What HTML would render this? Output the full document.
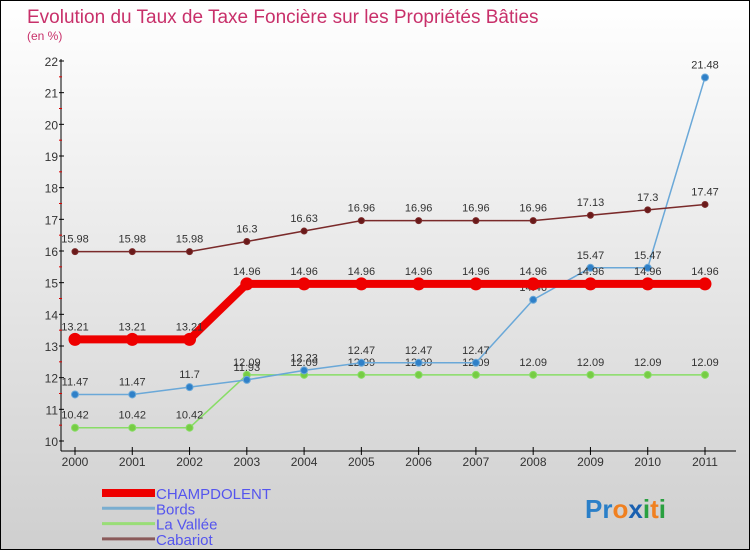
<!DOCTYPE html>
<html><head><meta charset="utf-8"><style>
html,body{margin:0;padding:0}
body{width:750px;height:550px;overflow:hidden;font-family:"Liberation Sans",sans-serif}
#wrap{position:relative;width:748px;height:548px;border:1px solid #000;background:linear-gradient(#ffffff,#cfcfcf)}
</style></head><body>
<div id="wrap">
<svg id="chart" width="748" height="548"></svg>
</div>
<script>
const years=[2000,2001,2002,2003,2004,2005,2006,2007,2008,2009,2010,2011];
const champdolent=[13.21,13.21,13.21,14.96,14.96,14.96,14.96,14.96,14.96,14.96,14.96,14.96];
const bords=[11.47,11.47,11.7,11.93,12.23,12.47,12.47,12.47,14.46,15.47,15.47,21.48];
const lavallee=[10.42,10.42,10.42,12.09,12.09,12.09,12.09,12.09,12.09,12.09,12.09,12.09];
const cabariot=[15.98,15.98,15.98,16.3,16.63,16.96,16.96,16.96,16.96,17.13,17.3,17.47];
const yTicks=[10,11,12,13,14,15,16,17,18,19,20,21,22];
const NS="http://www.w3.org/2000/svg";
const svg=document.getElementById('chart');
const xS=i=>74+i*(630/11);
const yS=v=>440-(v-10)*(380/12);
function mk(t,a,p){const e=document.createElementNS(NS,t);for(const k in a)e.setAttribute(k,a[k]);(p||svg).appendChild(e);return e;}
function txt(s,x,y,a){const e=mk('text',Object.assign({x:x,y:y},a));e.textContent=s;return e;}
// title
let t=txt('Evolution du Taux de Taxe Foncière sur les Propriétés Bâties',26,22,{'font-size':19,fill:'#c8306a'});


t=txt('(en %)',26,39,{'font-size':12,fill:'#c8306a'});


// axes
let ax=mk('line',{x1:60,y1:58,x2:60,y2:450,stroke:'#000'});


ax=mk('line',{x1:60,y1:450,x2:735,y2:450,stroke:'#000'});


yTicks.forEach(v=>{
 mk('line',{x1:58,y1:yS(v),x2:63,y2:yS(v),stroke:'#000'});
 if(v<22)mk('line',{x1:58,y1:yS(v+0.5),x2:61,y2:yS(v+0.5),stroke:'#d00'});
 const l=txt(String(v),57,yS(v)+5,{'font-size':12,fill:'#333','text-anchor':'end'});
 
 
});
years.forEach((y,i)=>{
 mk('line',{x1:xS(i),y1:446,x2:xS(i),y2:454,stroke:'#000'});
 const l=txt(String(y),xS(i),465,{'font-size':12,fill:'#333','text-anchor':'middle'});
 
 
});
function series(vals,color,w,r,fill,name){
 const g=mk('g',{});
 
 
 mk('polyline',{points:vals.map((v,i)=>xS(i)+','+yS(v)).join(' '),fill:'none',stroke:color,'stroke-width':w},g);
 vals.forEach((v,i)=>{
  const c=mk('circle',{cx:xS(i),cy:yS(v),r:r,fill:fill,stroke:color},g);
  
  
  const l=txt(String(v),xS(i),yS(v)-9,{'font-size':11,fill:'#333','text-anchor':'middle'},g);
  g.appendChild(l);
  
  
 });
}
series(lavallee,'#88dd66',1.5,3.5,'#77cc44','la-vallee');
series(bords,'#6aa8d8',1.5,3.5,'#2f80c8','bords');
series(cabariot,'#7a2a2a',1.5,3,'#6a1a1a','cabariot');
series(champdolent,'#ee0000',8,6,'#ee0000','champdolent');
// legend
const legN=['CHAMPDOLENT','Bords','La Vallée','Cabariot'];
const legC=['#ee0000','#7aaed0','#99dd77','#8a5a5a'];
const legW=[8,3,3,3];
legN.forEach((n,i)=>{
 const y=492+i*15.3;
 const g=mk('g',{});
 
 
 mk('line',{x1:101,y1:y,x2:154,y2:y,stroke:legC[i],'stroke-width':legW[i]},g);
 txt(n,155,y+6,{'font-size':15,fill:'#5555ee'},g);
});
// logo
const lg=txt('',584,517,{'font-size':26,'font-weight':'bold'});


[['Pr','#2a7fc8'],['o','#f08020'],['x','#1a60b0'],['i','#2aa040'],['t','#f08020'],['i','#2aa040']].forEach(([s,c])=>{const sp=mk('tspan',{fill:c},lg);sp.textContent=s;});
</script>
</body></html>
